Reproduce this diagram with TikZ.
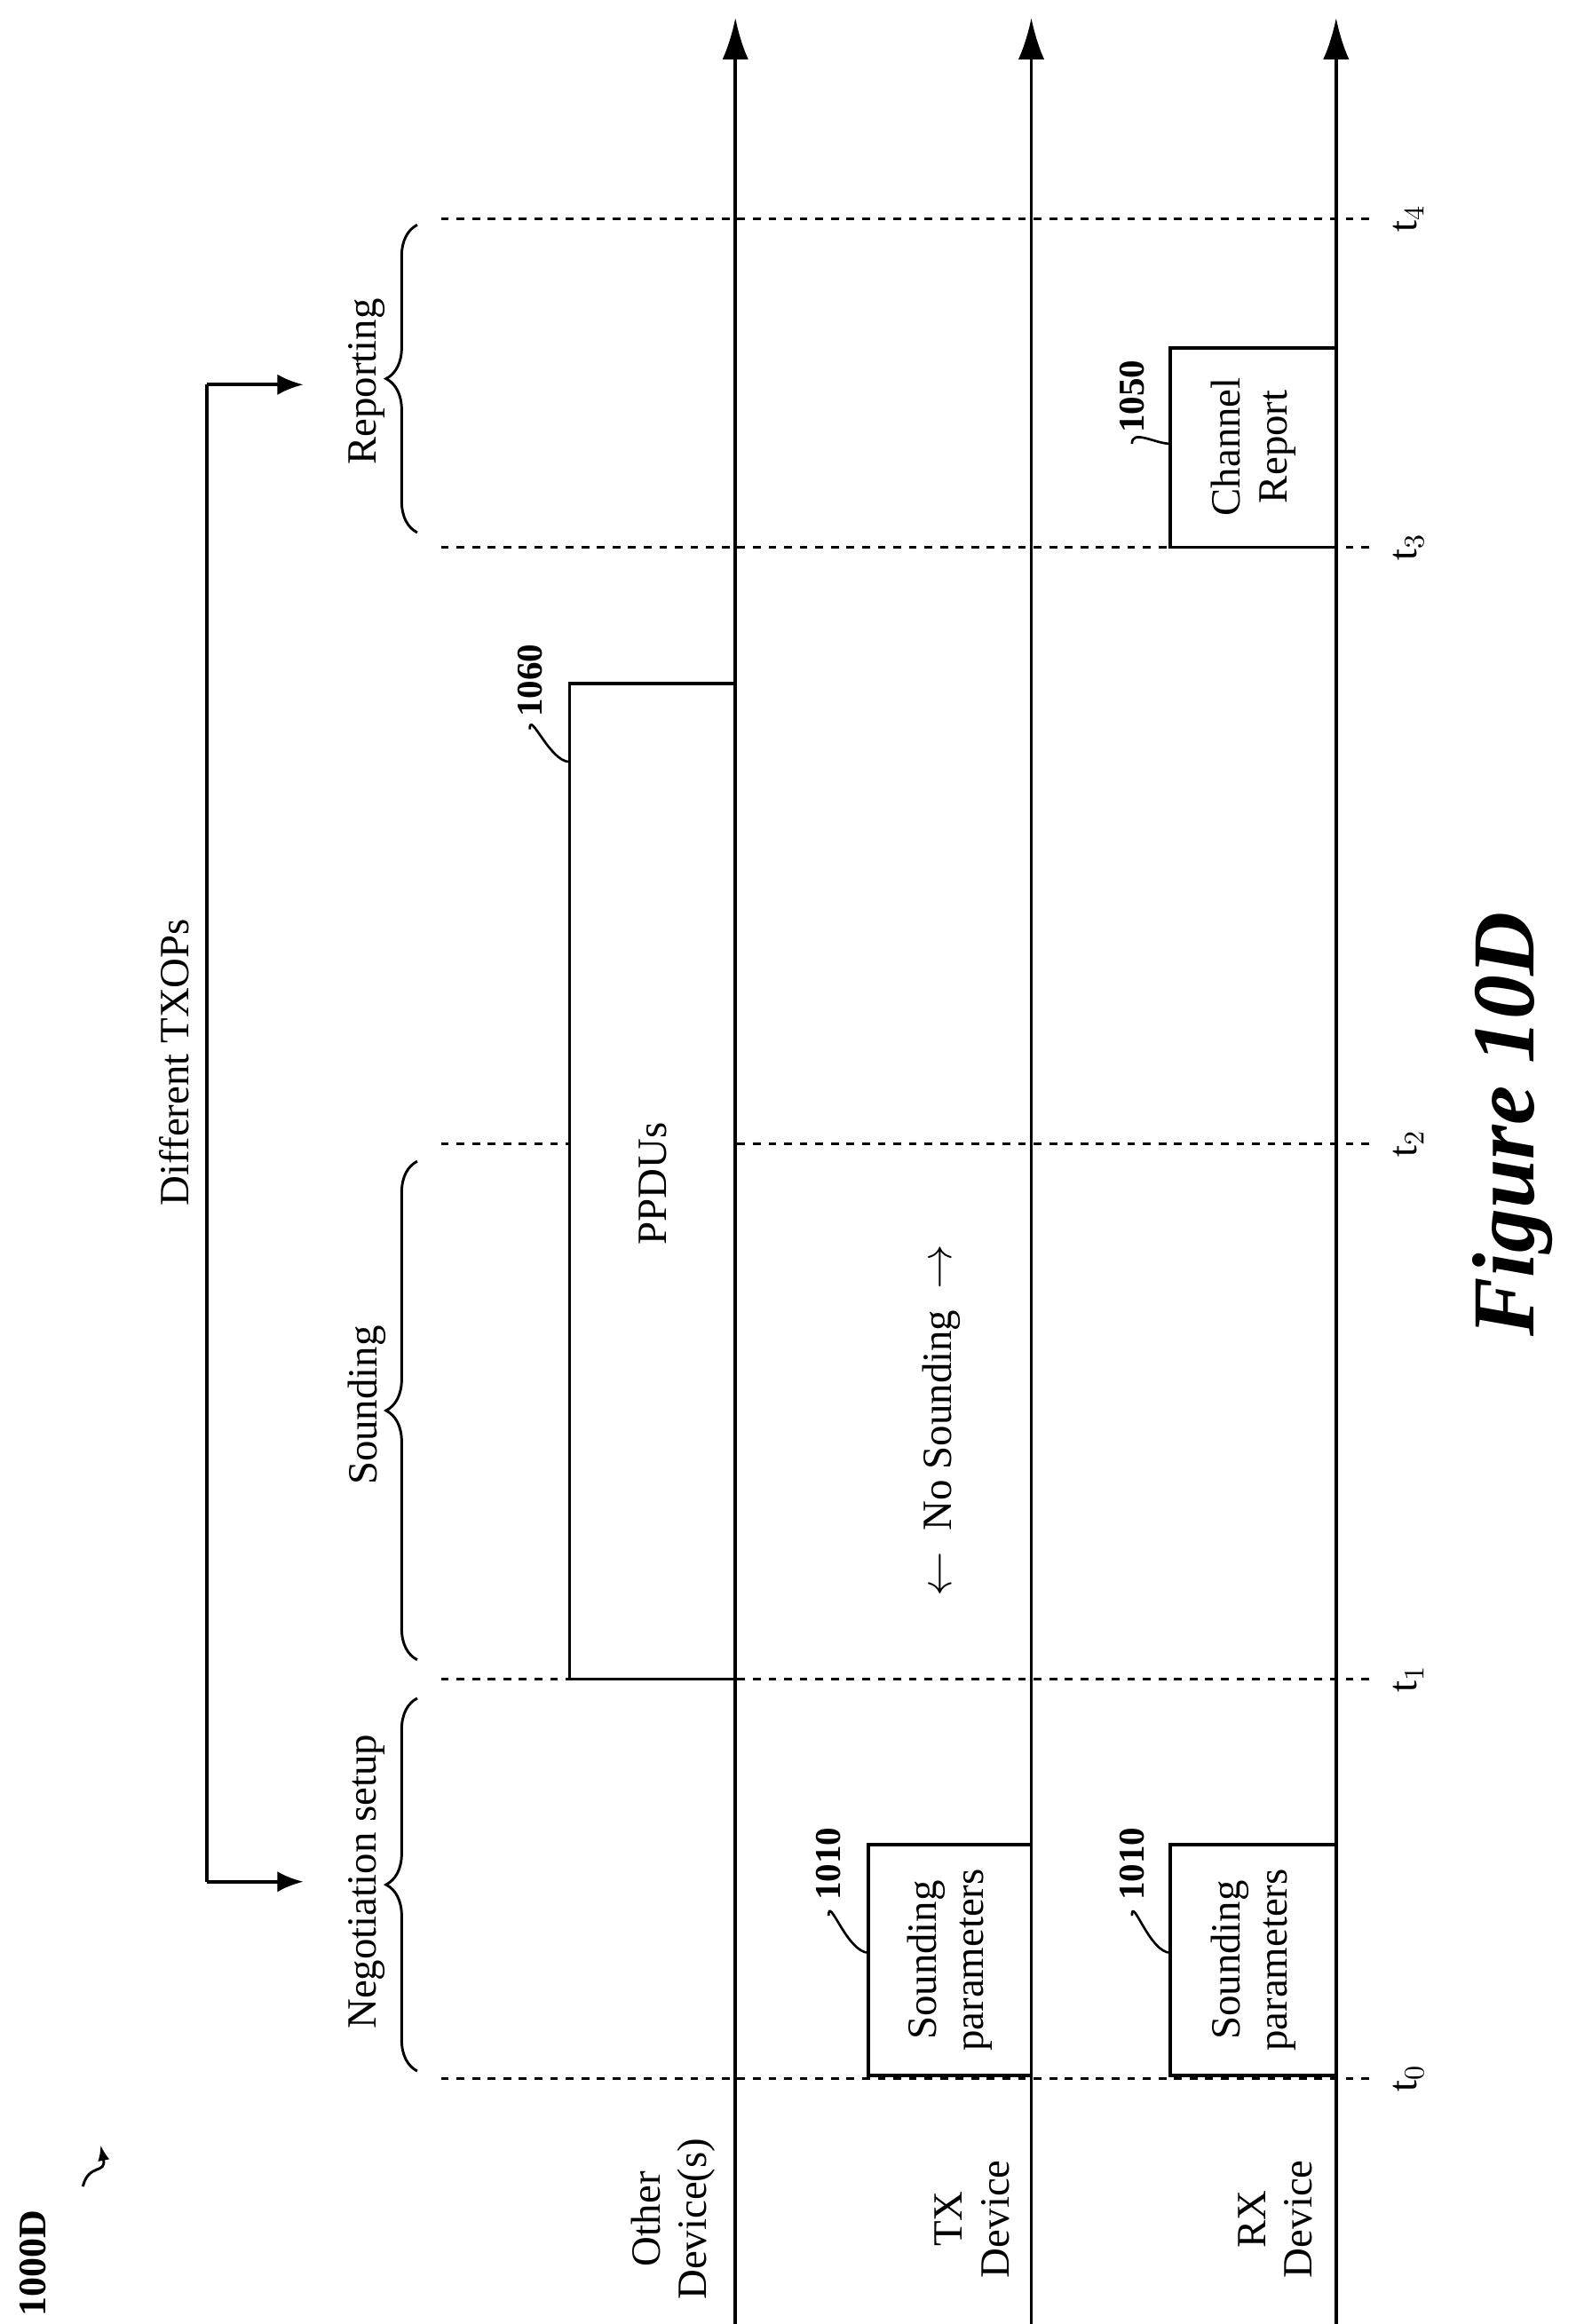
\documentclass[tikz,border=0pt]{standalone}
\usepackage{fontspec}
\setmainfont{Liberation Serif}
\usetikzlibrary{decorations.pathreplacing,arrows.meta}

\begin{document}
\begin{tikzpicture}
  [x=0.02cm,y=-0.02cm,line width=1.3pt,
   lbl/.style={rotate=90,font=\fontsize{16}{18}\selectfont,align=center},
   num/.style={rotate=90,font=\bfseries\fontsize{14}{16}\selectfont},
   box/.style={draw,fill=white,line width=1.3pt},
   tline/.style={dashed,line width=1pt},
   brc/.style={decorate,decoration={brace,amplitude=12pt},line width=1pt}]
  \useasboundingbox (0,0) rectangle (1070,1571);

  % time marks
  \foreach \y/\t in {1405/0,1135/1,773/2,370/3,148/4}{
    \coordinate (a\t) at (298,\y); \coordinate (b\t) at (930,\y);
    \draw[tline] (a\t) -- (b\t);
    \node[lbl] (t\t) at (952,\y) {t$_\t$};
  }

  % frames
  \draw[box] (697,1403) -- (587,1403) -- (587,1247) -- (697,1247);
  \node[lbl] (tsp) at (642,1325) {Sounding\\parameters};
  \draw[box] (903,1403) -- (791,1403) -- (791,1247) -- (903,1247);
  \node[lbl] (rsp) at (847,1325) {Sounding\\parameters};
  \draw[box] (497,1135) -- (385,1135) -- (385,462) -- (497,462);
  \node[lbl] (ppdu) at (441,800) {PPDUs};
  \draw[box] (903,370) -- (791,370) -- (791,235) -- (903,235);
  \node[lbl] (crep) at (847,302) {Channel\\Report};

  % time axes
  \coordinate (o0) at (497,1571); \coordinate (o1) at (497,12);
  \coordinate (x0) at (697,1571); \coordinate (x1) at (697,12);
  \coordinate (r0) at (903,1571); \coordinate (r1) at (903,12);
  \draw[-{Latex[length=16pt,width=10pt]}] (o0) -- (o1);
  \draw[-{Latex[length=16pt,width=10pt]}] (x0) -- (x1);
  \draw[-{Latex[length=16pt,width=10pt]}] (r0) -- (r1);

  % phases
  \draw[brc] (282,1400) -- (282,1148);
  \draw[brc] (282,1122) -- (282,785);
  \draw[brc] (282,360) -- (282,152);
  \node[lbl] (neg) at (248,1272) {Negotiation setup};
  \node[lbl] (snd) at (248,950) {Sounding};
  \node[lbl] (rep) at (248,258) {Reporting};

  % TXOPs
  \coordinate (p0) at (205,1272); \coordinate (p1) at (205,260);
  \draw[-{Latex[length=10pt,width=8pt]}] (140,1272) -- (p0);
  \draw[-{Latex[length=10pt,width=8pt]}] (140,260) -- (p1);
  \draw (140,1272) -- (140,260);
  \node[lbl] (txop) at (118,718) {Different TXOPs};

  % reference numerals
  \node[num] (n1) at (560,1260) {1010};
  \node[num] (n2) at (765,1260) {1010};
  \node[num] (n3) at (358,460) {1060};
  \node[num] (n4) at (765,268) {1050};
  \draw[line width=0.9pt] (587,1320) to[out=180,in=90] (560,1295);
  \draw[line width=0.9pt] (791,1320) to[out=180,in=90] (765,1295);
  \draw[line width=0.9pt] (385,515) to[out=180,in=90] (358,493);
  \draw[line width=0.9pt] (791,300) to[out=180,in=90] (765,300);

  % rows
  \node[lbl] (od) at (455,1500) {Other\\Device(s)};
  \node[lbl] (td) at (657,1500) {TX\\Device};
  \node[lbl] (rd) at (862,1500) {RX\\Device};
  \node[lbl] (ns) at (636,960) {$\leftarrow$\ \ No Sounding\ \ $\rightarrow$};

  \node[rotate=90,font=\bfseries\itshape\fontsize{34}{36}\selectfont] (fig) at (1022,760) {Figure 10D};
  \node[num,font=\bfseries\fontsize{15}{17}\selectfont] (ref) at (22,1530) {1000D};
  \draw[-{Latex[length=6pt]},line width=1pt] (56,1478) .. controls (60,1462) and (72,1470) .. (68,1450);
\end{tikzpicture}
\end{document}
